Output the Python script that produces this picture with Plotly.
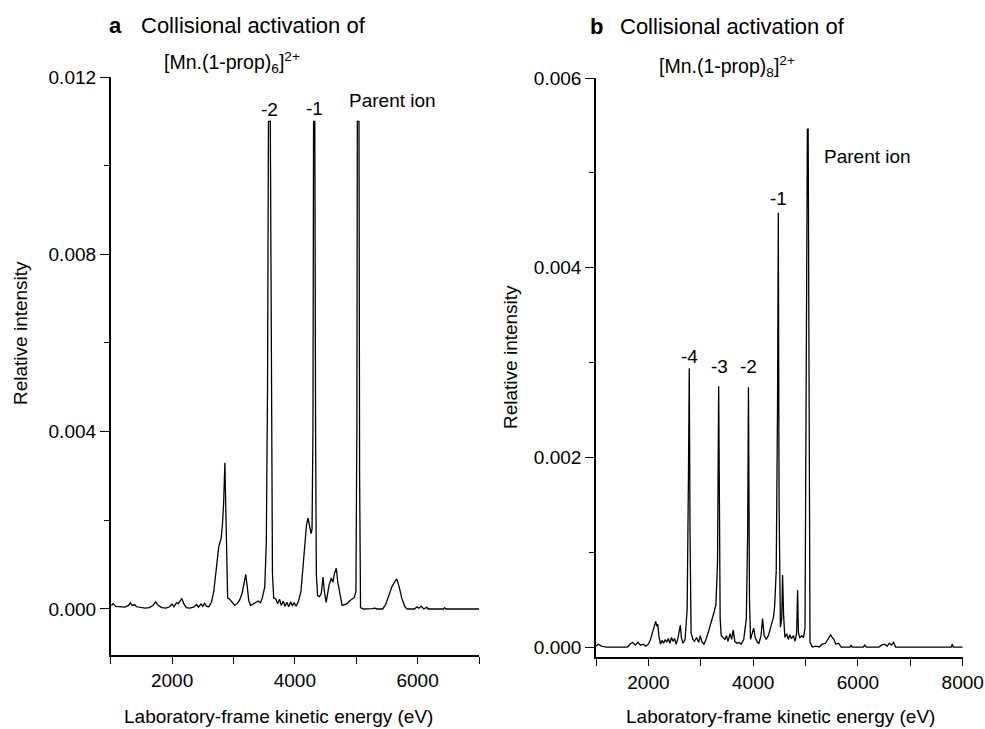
import plotly.graph_objects as go

# ---------------- Data: panel a, [Mn.(1-prop)6]2+ ----------------
energy_a = [1010, 1040, 1080, 1150, 1230, 1290, 1320, 1350, 1390, 1420, 1480, 1560, 1630, 1690, 1730, 1770,
            1830, 1900, 1960, 2000, 2030, 2070, 2100, 2130, 2160, 2190, 2230, 2290, 2350, 2400, 2430, 2470,
            2500, 2530, 2560, 2600, 2640, 2680, 2710, 2740, 2760, 2780, 2800, 2820, 2840, 2860, 2875, 2890,
            2905, 2940, 2980, 3020, 3060, 3100, 3140, 3170, 3200, 3225, 3250, 3280, 3320, 3360, 3400, 3440,
            3470, 3510, 3535, 3555, 3570, 3600, 3615, 3635, 3655, 3690, 3720, 3750, 3780, 3810, 3840, 3870,
            3900, 3930, 3960, 3990, 4020, 4060, 4100, 4130, 4160, 4190, 4215, 4240, 4265, 4280, 4295, 4305,
            4325, 4338, 4350, 4370, 4400, 4430, 4460, 4480, 4510, 4535, 4560, 4595, 4620, 4645, 4675, 4700,
            4740, 4770, 4810, 4850, 4890, 4930, 4970, 4995, 5010, 5018, 5045, 5055, 5070, 5120, 5200, 5260,
            5300, 5340, 5430, 5480, 5530, 5580, 5630, 5660, 5700, 5740, 5790, 5830, 5950, 5990, 6020, 6060,
            6100, 6150, 6170, 6300, 6420, 6440, 6460, 7000]
intensity_a = [0.00008, 0.00012, 0.00006, 0.00005, 0.00004, 0.00008, 0.00014, 0.00008, 0.0001, 0.00005,
               0.00004, 0.00002, 0.00003, 0.00008, 0.00016, 0.00009, 0.00003, 0.00002, 0.00005, 0.00011,
               0.00005, 0.00014, 0.00012, 0.00018, 0.00024, 0.00012, 0.00003, 0.00002, 0.00004, 0.0001,
               0.00004, 0.00011, 0.00006, 0.00013, 0.00006, 0.00005, 0.00015, 0.0004, 0.0008, 0.0012,
               0.0014, 0.0015, 0.0016, 0.0019, 0.0024, 0.0033, 0.0024, 0.0008, 0.00025, 0.00022,
               0.00014, 0.00008, 0.00012, 0.0002, 0.00035, 0.00055, 0.00078, 0.0005, 0.00018, 0.00008,
               0.00012, 0.00014, 0.00018, 0.00014, 0.00025, 0.0005, 0.0015, 0.005, 0.011, 0.011,
               0.005, 0.0008, 0.00025, 0.00022, 0.00012, 0.00022, 0.00008, 0.00018, 0.00006, 0.00015,
               0.00005, 0.00016, 0.00008, 0.00014, 0.00006, 0.00018, 0.0004, 0.0009, 0.0014, 0.0019,
               0.00205, 0.0019, 0.0017, 0.0018, 0.004, 0.011, 0.011, 0.004, 0.0008, 0.0003,
               0.00028, 0.00035, 0.00072, 0.0004, 0.00015, 0.00035, 0.00055, 0.0007, 0.0006, 0.0008,
               0.00092, 0.0006, 0.00025, 0.00008, 0.0001, 0.00012, 0.00018, 0.00022, 0.00026, 0.0004,
               0.004, 0.011, 0.011, 0.003, 0.00003, 0.0, 0.0, 0.00001, 0.00002, 0.0,
               0.0, 0.0001, 0.0003, 0.0005, 0.00062, 0.00068, 0.0005, 0.00025, 0.00006, 0.0,
               0.0, 0.00005, 0.00002, 0.00006, 0.0, 0.00004, 0.0, 0.0, 0.0, 0.00003,
               0.0, 0.0]

# ---------------- Data: panel b, [Mn.(1-prop)8]2+ ----------------
energy_b = [1000, 1050, 1100, 1200, 1400, 1600, 1650, 1700, 1750, 1800, 1850, 1900, 1950, 2000, 2040, 2080,
            2110, 2140, 2160, 2180, 2200, 2230, 2260, 2290, 2320, 2350, 2380, 2410, 2440, 2470, 2500, 2530,
            2560, 2590, 2610, 2630, 2660, 2700, 2740, 2765, 2780, 2795, 2815, 2850, 2880, 2920, 2960, 2990,
            3020, 3060, 3100, 3140, 3180, 3220, 3260, 3290, 3320, 3342, 3355, 3370, 3390, 3420, 3460, 3490,
            3520, 3560, 3590, 3620, 3650, 3690, 3730, 3770, 3820, 3870, 3895, 3910, 3930, 3950, 3980, 4010,
            4040, 4080, 4110, 4150, 4180, 4210, 4250, 4290, 4330, 4360, 4390, 4410, 4440, 4465, 4480, 4495,
            4520, 4545, 4562, 4580, 4605, 4640, 4670, 4700, 4730, 4770, 4800, 4830, 4849, 4865, 4890, 4930,
            4960, 4990, 5015, 5035, 5050, 5065, 5085, 5130, 5200, 5260, 5320, 5380, 5430, 5480, 5510, 5540,
            5580, 5630, 5680, 5850, 5870, 5890, 6100, 6130, 6160, 6400, 6450, 6500, 6560, 6600, 6640, 6680,
            6720, 7780, 7800, 7820, 8000]
intensity_b = [0.00001, 0.00003, 0.00001, 0.0, 0.0, 0.0, 0.00003, 0.00005, 0.00002, 0.00005,
               0.00002, 0.00003, 0.00001, 0.00003, 0.00008, 0.00015, 0.0002, 0.00027, 0.00022, 0.00024,
               0.00012, 0.00003, 0.00007, 0.00004, 0.00008, 0.00005, 0.00009, 0.00004, 0.0001, 0.00006,
               0.00009, 0.00003, 0.00008, 0.00018, 0.00023, 0.0001, 0.00004, 0.00008, 0.0004, 0.0018,
               0.00294, 0.0012, 0.00015, 0.00008, 0.00006, 0.0001, 0.00005, 0.00012, 0.00006, 0.00003,
               0.00008, 0.00015, 0.00022, 0.0003, 0.00038, 0.00045, 0.0009, 0.00275, 0.0012, 0.0003,
               0.00012, 0.0001, 0.00008, 0.00012, 0.00006, 0.00014, 0.00008, 0.00018, 0.00006, 0.00004,
               0.00005, 0.00003, 0.00008, 0.0003, 0.0012, 0.00274, 0.0005, 0.00008, 0.00015, 0.0002,
               0.0001, 0.00005, 0.00004, 0.00012, 0.0003, 0.00012, 0.00008, 0.00012, 0.0002, 0.00026,
               0.00032, 0.00043, 0.0008, 0.0025, 0.00458, 0.0015, 0.00021, 0.0003, 0.00076, 0.00035,
               0.0001, 0.00014, 0.00008, 0.00013, 0.00009, 0.00012, 0.00006, 0.00015, 0.0006, 0.00015,
               0.0001, 0.00012, 0.0001, 0.0002, 0.0025, 0.00546, 0.00546, 0.002, 0.00005, 0.0,
               0.00001, 0.0, 0.00003, 0.00004, 0.00009, 0.00013, 0.0001, 0.00008, 0.00003, 0.00004,
               0.0, 0.0, 0.00002, 0.0, 0.0, 0.00002, 0.0, 0.0, 0.00002, 0.00003,
               0.00001, 0.00004, 0.00002, 0.00005, 0.0, 0.0, 0.00003, 0.0, 0.0]

# Peak labels (text, energy position, intensity level of label centre)
labels_a = ["-2", "-1", "Parent ion"]
label_energy_a = [3585, 4315, 4850]
label_level_a = [0.01126, 0.0113, 0.01146]
labels_b = ["-4", "-3", "-2", "-1", "Parent ion"]
label_energy_b = [2780, 3350, 3905, 4485, 5313]
label_level_b = [0.00306, 0.00296, 0.00296, 0.00473, 0.00517]

FONT = "Liberation Sans, Arial, sans-serif"
W, H = 985, 729

fig = go.Figure()
fig.add_trace(go.Scatter(x=energy_a, y=intensity_a, mode="lines",
                         line=dict(color="black", width=1.3), xaxis="x", yaxis="y", showlegend=False))
fig.add_trace(go.Scatter(x=energy_b, y=intensity_b, mode="lines",
                         line=dict(color="black", width=1.3), xaxis="x2", yaxis="y2", showlegend=False))


def xax(domain, rng, anchor):
    return dict(domain=domain, range=rng, dtick=2000, tick0=0, showgrid=False, zeroline=False,
                showline=True, linecolor="black", linewidth=1.6, ticks="outside", ticklen=7,
                tickwidth=1.3, tickcolor="black", anchor=anchor, automargin=False,
                tickfont=dict(family=FONT, size=19, color="black"),
                minor=dict(dtick=1000, tick0=0, ticks="outside", ticklen=7, tickwidth=1.3,
                           tickcolor="black", showgrid=False),
                fixedrange=True)


def yax(domain, rng, dt, anchor):
    return dict(domain=domain, range=rng, dtick=dt, tick0=0, tickformat=".3f", showgrid=False,
                zeroline=False, showline=True, linecolor="black", linewidth=1.6, ticks="outside",
                ticklen=9, tickwidth=1.3, tickcolor="black", anchor=anchor, automargin=False,
                tickfont=dict(family=FONT, size=19, color="black"),
                minor=dict(dtick=dt / 2, tick0=0, ticks="outside", ticklen=5, tickwidth=1.3,
                           tickcolor="black", showgrid=False),
                fixedrange=True)


fig.update_layout(
    width=W, height=H, autosize=False,
    margin=dict(l=0, r=0, t=0, b=0, pad=0, autoexpand=False),
    paper_bgcolor="white", plot_bgcolor="white",
    font=dict(family=FONT, size=19, color="black"),
    xaxis=xax([110.7 / W, 479 / W], [1000, 7000], "y"),
    yaxis=yax([1 - 655 / H, 1 - 77 / H], [-0.001038, 0.012], 0.004, "x"),
    xaxis2=xax([596 / W, 962.7 / W], [1000, 8000], "y2"),
    yaxis2=yax([1 - 657 / H, 1 - 78 / H], [-0.000105, 0.006], 0.002, "x2"),
)

ann = []
# Panel titles
TF = dict(family=FONT, size=22, color="black")
TF2 = dict(family=FONT, size=19.5, color="black")
ann.append(dict(text="<b>a</b>", x=107 / W, y=1 - 25 / H, xref="paper", yref="paper",
                xanchor="left", yanchor="middle", showarrow=False, font=TF))
ann.append(dict(text="Collisional activation of", x=139 / W, y=1 - 25 / H, xref="paper", yref="paper",
                xanchor="left", yanchor="middle", showarrow=False, font=TF))
ann.append(dict(text="[Mn.(1-prop)<sub>6</sub>]<sup>2+</sup>", x=232 / W, y=1 - 63 / H, xref="paper",
                yref="paper", xanchor="center", yanchor="middle", showarrow=False, font=TF2))
ann.append(dict(text="<b>b</b>", x=588 / W, y=1 - 27 / H, xref="paper", yref="paper",
                xanchor="left", yanchor="middle", showarrow=False, font=TF))
ann.append(dict(text="Collisional activation of", x=618 / W, y=1 - 27 / H, xref="paper", yref="paper",
                xanchor="left", yanchor="middle", showarrow=False, font=TF))
ann.append(dict(text="[Mn.(1-prop)<sub>8</sub>]<sup>2+</sup>", x=727 / W, y=1 - 66 / H, xref="paper",
                yref="paper", xanchor="center", yanchor="middle", showarrow=False, font=TF2))

# Axis titles
AF = dict(family=FONT, size=19, color="black")
for xc in (278 / W, 780 / W):
    ann.append(dict(text="Laboratory-frame kinetic energy (eV)", x=xc, y=1 - 716 / H, xref="paper",
                    yref="paper", xanchor="center", yanchor="middle", showarrow=False, font=AF))
ann.append(dict(text="Relative intensity", x=20 / W, y=1 - 333 / H, xref="paper", yref="paper",
                xanchor="center", yanchor="middle", textangle=-90, showarrow=False, font=AF))
ann.append(dict(text="Relative intensity", x=510 / W, y=1 - 357 / H, xref="paper", yref="paper",
                xanchor="center", yanchor="middle", textangle=-90, showarrow=False, font=AF))

# Peak labels
for t, e, v in zip(labels_a, label_energy_a, label_level_a):
    ann.append(dict(text=t, x=e, y=v, xref="x", yref="y",
                    xanchor="left" if t == "Parent ion" else "center",
                    yanchor="middle", showarrow=False, font=AF))
for t, e, v in zip(labels_b, label_energy_b, label_level_b):
    ann.append(dict(text=t, x=e, y=v, xref="x2", yref="y2",
                    xanchor="left" if t == "Parent ion" else "center",
                    yanchor="middle", showarrow=False, font=AF))

fig.update_layout(annotations=ann)
fig.write_html("out.html", post_script="document.body.style.margin='0px';")
